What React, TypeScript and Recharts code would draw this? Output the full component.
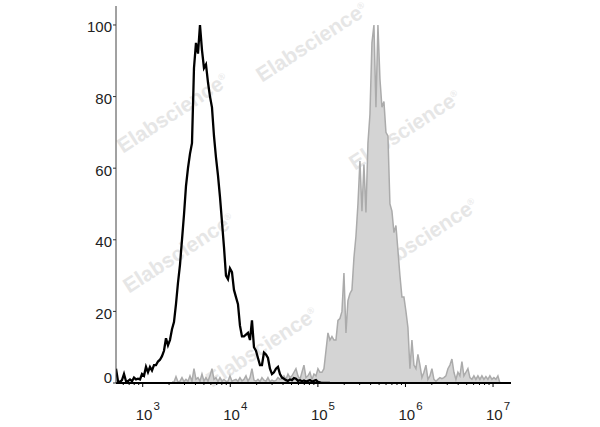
import { ComposedChart, Area, Line, XAxis, YAxis } from "recharts";

// histogram channels: log10 intensity of channel i = DECADE_START + i * DECADES_PER_CHANNEL
const DECADE_START = 2.695;
const DECADES_PER_CHANNEL = 0.02283;
const CHANNEL_COUNT = 198;

// unstained control (black outline), from channel 0
const CONTROL_COUNTS = [
  4, 0.5, 0.3, 0.8, 2.5, 0.5, 0.5, 1, 0.5, 1.5,
  1, 1.2, 1, 2.5, 2, 4.5, 3, 4.5, 3.5, 5,
  5, 6, 6.5, 7.5, 9, 12.5, 10.5, 12, 15, 17,
  22, 28, 33, 40, 47, 55, 60, 64, 67, 88,
  95, 92, 100, 93, 88, 89, 84, 80, 77, 69,
  63, 58, 52, 45, 38, 30, 29, 32, 31, 26,
  24, 22, 16, 13, 13, 13.5, 14, 12, 17.5, 10,
  9, 7, 5, 5, 8.5, 8, 7, 4, 2.5, 3,
  4, 4.5, 2.5, 1.5, 1.2, 0.8, 0.6, 1, 0.8, 1.4,
  1.2, 0.6, 0.8, 0.5, 0.7, 0.4, 0.6, 0.8, 0.4, 0.6,
  0.8, 0.3, 0.2, 0, 0, 0, 0, 0,
];

// stained sample (grey filled), from channel 28
const STAINED_FIRST_CHANNEL = 28;
const STAINED_COUNTS = [
  0.3, 0.3, 1.8, 0.3, 0.5, 1.5, 0.4, 1, 0.5, 2,
  0.5, 4, 1, 1.5, 0.5, 2.5, 0.5, 1.5, 0.5, 2,
  4, 1, 1.5, 0.4, 1.5, 0.5, 1, 0.5, 0.5, 2,
  0.5, 0.8, 1, 0.5, 1.5, 0.6, 1, 2, 0.5, 1.5,
  4, 0.8, 0.5, 1, 0.4, 1.5, 0.8, 0.5, 1.5, 0.4,
  0.8, 0.5, 0.7, 1.5, 1, 1.2, 2, 1, 2.5, 1.5,
  2, 3, 4, 2, 1, 3, 5, 1.5, 2, 3,
  1, 2.5, 2, 4, 3, 3, 4, 9, 14, 12,
  13, 12, 12, 17.5, 18, 20, 30.7, 14, 23, 25,
  26, 35, 41, 50, 62, 48, 61, 47.6, 67, 75,
  95, 100, 77, 100, 85, 77, 78.6, 70, 69, 50,
  48, 42, 44, 37, 30, 24, 24, 20, 15.5, 4,
  12, 5, 4, 8, 5, 1.5, 3, 5, 1, 2,
  4, 1, 0.5, 1, 1.5, 1.2, 1.5, 2, 4, 5,
  6.7, 3, 1, 3, 2, 6, 2, 3, 4, 1.5,
  1, 2, 1, 2, 1, 2, 1, 1.8, 1, 2,
  1, 1.5, 1, 2, 0,
];

const DECADES = [3, 4, 5, 6, 7];
const COUNT_TICKS = [0, 20, 40, 60, 80, 100];

const WATERMARKS = [
  { cx: 312, cy: 42 },
  { cx: 173, cy: 113 },
  { cx: 405, cy: 130 },
  { cx: 179, cy: 253 },
  { cx: 422, cy: 238 },
  { cx: 262, cy: 347 },
];

const FONT = "'Liberation Sans', Arial, sans-serif";

const rows = Array.from({ length: CHANNEL_COUNT }, (_, i) => {
  const s = i - STAINED_FIRST_CHANNEL;
  return {
    logI: DECADE_START + i * DECADES_PER_CHANNEL,
    control: i < CONTROL_COUNTS.length ? CONTROL_COUNTS[i] : undefined,
    stained: s >= 0 && s < STAINED_COUNTS.length ? STAINED_COUNTS[s] : undefined,
  };
});

// major decades plus log-spaced minor ticks
const xTicks: number[] = [];
for (let d = 2; d <= 7; d++) {
  for (let k = 1; k <= 9; k++) {
    const t = d + Math.log10(k);
    if (t >= 2.7 && t <= 7.2) xTicks.push(t);
  }
}

function DecadeTick({ x, y, payload }: any) {
  const v = payload.value as number;
  const major = Math.abs(v - Math.round(v)) < 1e-6;
  return (
    <g>
      <line x1={x} x2={x} y1={y} y2={y + (major ? 4 : 2)} stroke="#000" strokeWidth={1} />
      {major && DECADES.includes(Math.round(v)) && (
        <text x={x - 7} y={y + 37} textAnchor="start" fontSize={15} fill="#222" fontFamily={FONT}>
          10
          <tspan dx={1} dy={-10} fontSize={11.5}>
            {Math.round(v)}
          </tspan>
        </text>
      )}
    </g>
  );
}

function CountTick({ x, y, payload }: any) {
  // the 0 label sits a little above the axis
  const shift = payload.value === 0 ? -5 : 2;
  return (
    <text x={x} y={y + shift} dy="0.355em" textAnchor="end" fontSize={15} fill="#222" fontFamily={FONT}>
      {payload.value}
    </text>
  );
}

export default function App() {
  return (
    <div style={{ position: "absolute", left: 0, top: 0, width: 600, height: 427, background: "#fff" }}>
      <div style={{ position: "absolute", inset: 0 }}>
        {WATERMARKS.map((w, i) => (
          <div
            key={i}
            style={{
              position: "absolute",
              left: w.cx,
              top: w.cy,
              transform: "translate(-50%, -50%) rotate(-33deg)",
              fontFamily: FONT,
              fontWeight: "bold",
              fontSize: 21,
              color: "#e6e6e6",
              whiteSpace: "nowrap",
            }}
          >
            Elabscience
            <sup style={{ fontSize: 9, fontWeight: "normal" }}>®</sup>
          </div>
        ))}
      </div>
      <div style={{ position: "absolute", inset: 0 }}>
        <ComposedChart width={600} height={427} data={rows} margin={{ top: 6, right: 89, bottom: 0, left: 0 }}>
          <XAxis
            xAxisId="main"
            dataKey="logI"
            type="number"
            domain={[2.695, 7.205]}
            allowDataOverflow
            ticks={xTicks}
            interval={0}
            tick={<DecadeTick />}
            tickLine={false}
            tickSize={0}
            tickMargin={0}
            height={44}
            axisLine={{ stroke: "#000", strokeWidth: 2 }}
          />
          <XAxis
            xAxisId="top"
            orientation="top"
            dataKey="logI"
            type="number"
            domain={[2.695, 7.205]}
            allowDataOverflow
            tick={false}
            tickLine={false}
            height={0}
            axisLine={{ stroke: "#666" }}
          />
          <YAxis
            yAxisId="count"
            type="number"
            domain={[0, 105.3]}
            allowDataOverflow
            ticks={COUNT_TICKS}
            interval={0}
            tick={<CountTick />}
            tickSize={3}
            tickMargin={1}
            tickLine={{ stroke: "#333" }}
            width={116}
            axisLine={{ stroke: "#444" }}
          />
          <YAxis
            yAxisId="frame"
            orientation="right"
            domain={[0, 105.3]}
            tick={false}
            tickLine={false}
            width={0}
            axisLine={{ stroke: "#555" }}
          />
          <Area
            xAxisId="main"
            yAxisId="count"
            type="linear"
            dataKey="stained"
            stroke="#ababab"
            strokeWidth={1.5}
            fill="#d4d4d4"
            fillOpacity={1}
            baseValue={0}
            dot={false}
            activeDot={false}
            isAnimationActive={false}
          />
          <Line
            xAxisId="main"
            yAxisId="count"
            type="linear"
            dataKey="control"
            stroke="#000"
            strokeWidth={2.3}
            dot={false}
            activeDot={false}
            isAnimationActive={false}
          />
        </ComposedChart>
      </div>
    </div>
  );
}
